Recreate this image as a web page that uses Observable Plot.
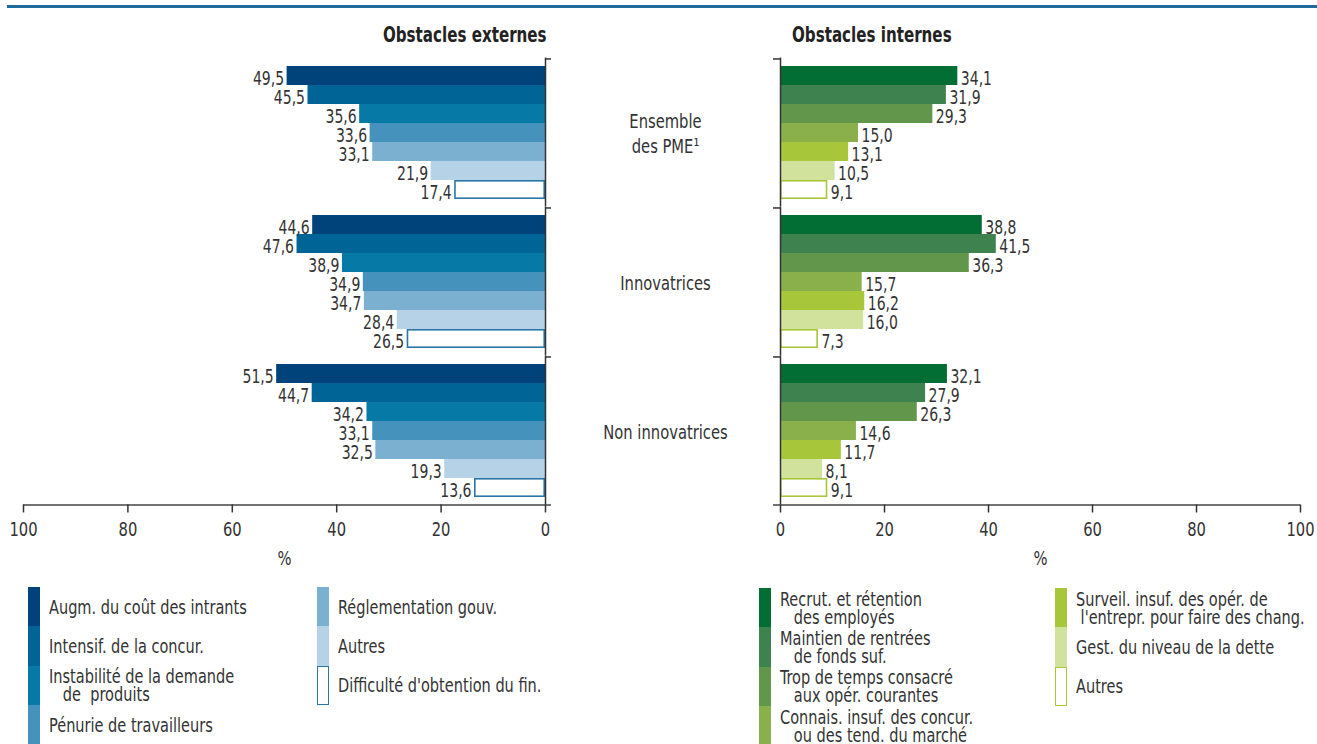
<!DOCTYPE html>
<html>
<head>
<meta charset="utf-8">
<script src="https://cdn.jsdelivr.net/npm/d3@7"></script>
<script src="https://cdn.jsdelivr.net/npm/@observablehq/plot@0.6"></script>
<style>
  html, body { margin: 0; padding: 0; background: #fff; overflow: hidden; }
  #root { position: relative; width: 1317px; height: 744px; overflow: hidden;
    font-family: "DejaVu Sans Condensed", "Liberation Sans Narrow", sans-serif; color: #333; }
  .abs { position: absolute; }
  .title { font-weight: bold; font-size: 21px; color: #222; white-space: nowrap; }
  .leg { position: absolute; }
  .leg .row { display: flex; align-items: center; height: 39.3px; }
  .leg .sw { width: 12px; height: 100%; box-sizing: border-box; flex: none; }
  .leg .tx { margin-left: 9px; font-size: 19px; line-height: 18px; white-space: pre; color: #333;
    transform: scaleX(0.85); transform-origin: left center; }
</style>
</head>
<body>
<div id="root">
  <div class="abs" style="left:7px; top:5px; width:1310px; height:3px; background:#1f6b9c;"></div>
  <div class="abs title" id="t1" style="right:770px; top:23px; transform: scaleX(0.8); transform-origin: right center;"></div>
  <div class="abs title" id="t2" style="left:792px; top:23px; transform: scaleX(0.8); transform-origin: left center;"></div>
  <div class="abs" id="leftPlot" style="left:0; top:0;"></div>
  <div class="abs" id="rightPlot" style="left:560px; top:0;"></div>
  <div class="leg" id="legL1" style="left:28px; top:587px;"></div>
  <div class="leg" id="legL2" style="left:317px; top:587px;"></div>
  <div class="leg" id="legR1" style="left:759px; top:588px;"></div>
  <div class="leg" id="legR2" style="left:1055px; top:588px;"></div>
</div>
<script>
// ---------- data ----------
const titleExternal = "Obstacles externes";
const titleInternal = "Obstacles internes";
const groups = ["Ensemble des PME¹", "Innovatrices", "Non innovatrices"];
const groupLabels = ["Ensemble\ndes PME¹", "Innovatrices", "Non innovatrices"];

const externalItems = [
  "Augm. du coût des intrants",
  "Intensif. de la concur.",
  "Instabilité de la demande\n   de  produits",
  "Pénurie de travailleurs",
  "Réglementation gouv.",
  "Autres",
  "Difficulté d'obtention du fin."
];
const externalEnsemble = [49.5, 45.5, 35.6, 33.6, 33.1, 21.9, 17.4];
const externalInnov    = [44.6, 47.6, 38.9, 34.9, 34.7, 28.4, 26.5];
const externalNonInnov = [51.5, 44.7, 34.2, 33.1, 32.5, 19.3, 13.6];
const externalColors = ["#00427a", "#006596", "#0779a6", "#4592bc", "#7cb0d1", "#b6d2e6", "#ffffff"];
const externalOutline = "#2a76a8";

const internalItems = [
  "Recrut. et rétention\n   des employés",
  "Maintien de rentrées\n   de fonds suf.",
  "Trop de temps consacré\n   aux opér. courantes",
  "Connais. insuf. des concur.\n   ou des tend. du marché",
  "Surveil. insuf. des opér. de\n l'entrepr. pour faire des chang.",
  "Gest. du niveau de la dette",
  "Autres"
];
const internalEnsemble = [34.1, 31.9, 29.3, 15.0, 13.1, 10.5, 9.1];
const internalInnov    = [38.8, 41.5, 36.3, 15.7, 16.2, 16.0, 7.3];
const internalNonInnov = [32.1, 27.9, 26.3, 14.6, 11.7, 8.1, 9.1];
const internalColors = ["#036e34", "#3e8250", "#62974b", "#89b04a", "#a8c63a", "#d1e29c", "#ffffff"];
const internalOutline = "#a8c63a";

const xTicks = [0, 20, 40, 60, 80, 100];

// ---------- helpers ----------
const FONT = '"DejaVu Sans Condensed", "Liberation Sans Narrow", sans-serif';
const TEXT_SQUEEZE = 0.82;
const fmt = v => d3.format(".1f")(v).replace(".", ",");

function table(items, seriesByGroup) {
  return groups.flatMap((g, gi) => items.map((it, ii) => ({group: g, item: it, value: seriesByGroup[gi][ii]})));
}

const TOP = 58, INNER = 447, BOTTOM = 72;
const HEIGHT = TOP + INNER + BOTTOM;
const padIn = 0.1, padOut = 0.05;
const step = INNER / (groups.length - padIn + 2 * padOut);
const gapHalf = step * padIn / 2;

// narrow the glyphs horizontally (condensed typeface look), keeping their anchor positions
function condense(svg) {
  svg.querySelectorAll("text").forEach(t => {
    const tr = t.getAttribute("transform");
    if (tr && tr.includes("translate")) t.setAttribute("transform", tr + ` scale(${TEXT_SQUEEZE},1)`);
  });
  return svg;
}

function panel({items, series, colors, outline, reverse, width, marginLeft, marginRight, labels}) {
  const data = table(items, series);
  const bw = step * (1 - padIn) / items.length;
  const rangeW = width - marginLeft - marginRight;
  const last = items[items.length - 1];
  const tickData = groups.map(g => ({group: g, item: items[0]}));
  const baseData = [{group: groups[groups.length - 1], item: last}];
  const marks = [
    Plot.barX(data, {x: "value", y: "item", fy: "group", fill: "item"}),
    Plot.barX(data.filter(d => d.item === last), {x: "value", y: "item", fy: "group", fill: "white",
      stroke: outline, strokeWidth: 1.6, insetTop: 0.8, insetBottom: 0.8, insetLeft: 0.8, insetRight: 0.8}),
    Plot.text(data, {x: "value", y: "item", fy: "group", text: d => fmt(d.value),
      textAnchor: reverse ? "end" : "start", dx: reverse ? -3 : 3, dy: 3, fill: "#333", fontSize: 19}),
    Plot.ruleX([0], {stroke: "#333", strokeWidth: 1.5, insetTop: -gapHalf, insetBottom: -gapHalf}),
    Plot.ruleY(tickData, {y: "item", fy: "group", dy: -(bw / 2 + gapHalf), stroke: "#333", strokeWidth: 1.5,
      insetLeft: reverse ? rangeW : -7, insetRight: reverse ? -6 : rangeW}),
    Plot.ruleY(baseData, {y: "item", fy: "group", dy: bw / 2 + gapHalf, stroke: "#444", strokeWidth: 1.5,
      insetLeft: reverse ? 0 : -7, insetRight: reverse ? -6 : 0}),
    Plot.axisX({ticks: xTicks, tickSize: 8, tickPadding: 9, tickFormat: d => d, strokeWidth: 1.5, dy: gapHalf,
      label: "%", labelAnchor: "center", labelArrow: "none", labelOffset: 67, fontSize: 20})
  ];
  if (labels) {
    marks.push(Plot.text(groups, {fy: d => d, frameAnchor: "left", dx: -115, textAnchor: "middle",
      text: d => labels[groups.indexOf(d)], fontSize: 20, lineHeight: 1.25, fill: "#333"}));
  }
  return condense(Plot.plot({
    width, height: HEIGHT,
    marginTop: TOP, marginBottom: BOTTOM, marginLeft, marginRight,
    style: {fontFamily: FONT, fontSize: "20px", color: "#333", background: "transparent", overflow: "visible"},
    x: {domain: [0, 100], reverse},
    y: {domain: items, padding: 0, axis: null},
    fy: {domain: groups, paddingInner: padIn, paddingOuter: padOut, axis: null},
    color: {domain: items, range: colors},
    marks
  }));
}

document.getElementById("t1").textContent = titleExternal;
document.getElementById("t2").textContent = titleInternal;

document.getElementById("leftPlot").append(panel({
  items: externalItems, series: [externalEnsemble, externalInnov, externalNonInnov],
  colors: externalColors, outline: externalOutline, reverse: true,
  width: 570, marginLeft: 23, marginRight: 25
}));
document.getElementById("rightPlot").append(panel({
  items: internalItems, series: [internalEnsemble, internalInnov, internalNonInnov],
  colors: internalColors, outline: internalOutline, reverse: false,
  width: 757, marginLeft: 220, marginRight: 17, labels: groupLabels
}));

function legend(el, items, colors, outline) {
  const box = document.getElementById(el);
  items.forEach((it, i) => {
    const row = document.createElement("div");
    row.className = "row";
    const sw = document.createElement("div");
    sw.className = "sw";
    sw.style.background = colors[i];
    if (colors[i] === "#ffffff") sw.style.border = `1.6px solid ${outline}`;
    const tx = document.createElement("div");
    tx.className = "tx";
    tx.textContent = it;
    row.append(sw, tx);
    box.append(row);
  });
}
legend("legL1", externalItems.slice(0, 4), externalColors.slice(0, 4), externalOutline);
legend("legL2", externalItems.slice(4), externalColors.slice(4), externalOutline);
legend("legR1", internalItems.slice(0, 4), internalColors.slice(0, 4), internalOutline);
legend("legR2", internalItems.slice(4), internalColors.slice(4), internalOutline);
</script>
</body>
</html>
